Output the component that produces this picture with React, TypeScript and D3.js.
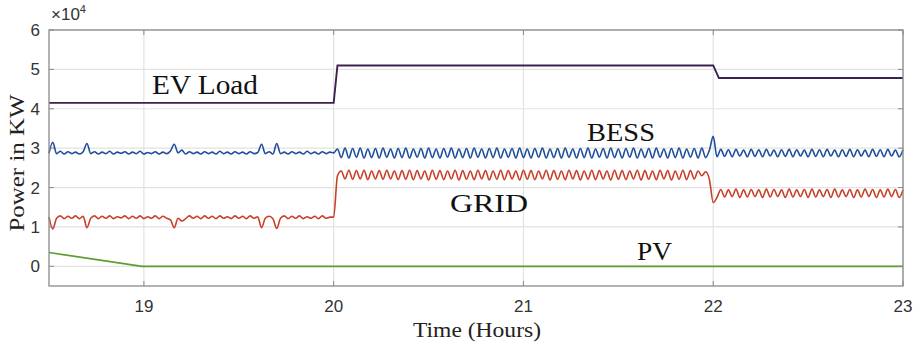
import React from "react";
import * as d3 from "d3";

const X_TICKS = [19, 20, 21, 22, 23];
const Y_TICKS = [0, 1, 2, 3, 4, 5, 6];

// sampled series: start time 18.5, step 0.02 h
const T0 = 18.5;
const STEP = 0.02;

const BESS = [
  2.87, 3.15, 2.86, 2.92, 2.85, 2.91, 2.86, 2.90, 2.85, 2.91,
  3.12, 2.86, 2.91, 2.85, 2.90, 2.86, 2.92, 2.85, 2.90, 2.87,
  2.91, 2.85, 2.90, 2.86, 2.92, 2.85, 2.89, 2.86, 2.91, 2.85,
  2.90, 2.86, 2.93, 3.10, 2.88, 2.95, 2.85, 2.91, 2.86, 2.90,
  2.85, 2.91, 2.86, 2.90, 2.85, 2.92, 2.86, 2.90, 2.85, 2.91,
  2.86, 2.90, 2.85, 2.91, 2.86, 2.89, 3.10, 2.86, 2.91, 2.85,
  3.12, 2.86, 2.90, 2.85, 2.91, 2.86, 2.90, 2.85, 2.92, 2.86,
  2.90, 2.85, 2.91, 2.86, 2.90, 2.88,
  2.98, 2.76, 3.00, 2.75, 2.99, 2.77, 3.00, 2.75, 2.98, 2.76,
  2.99, 2.75, 3.00, 2.77, 2.98, 2.75, 2.99, 2.76, 3.00, 2.75,
  2.98, 2.77, 2.99, 2.75, 3.00, 2.76, 2.98, 2.75, 2.99, 2.77,
  3.00, 2.75, 2.98, 2.76, 2.99, 2.75, 3.00, 2.77, 2.98, 2.75,
  2.99, 2.76, 3.00, 2.75, 2.98, 2.77, 2.99, 2.75, 3.00, 2.76,
  2.98, 2.75, 2.99, 2.77, 3.00, 2.75, 2.98, 2.76, 2.99, 2.75,
  3.00, 2.77, 2.98, 2.75, 2.99, 2.76, 3.00, 2.75, 2.98, 2.77,
  2.99, 2.75, 3.00, 2.76, 2.98, 2.75, 2.99, 2.77, 3.00, 2.75,
  2.98, 2.76, 2.99, 2.75, 3.00, 2.77, 2.98, 2.75, 2.99, 2.76,
  3.00, 2.75, 2.98, 2.77, 2.99, 2.75, 3.00, 2.76, 2.95, 3.30,
  2.78, 2.97, 2.79, 2.96, 2.78, 2.97, 2.80, 2.95, 2.78, 2.97,
  2.79, 2.96, 2.78, 2.97, 2.80, 2.95, 2.78, 2.96, 2.79, 2.97,
  2.78, 2.96, 2.80, 2.95, 2.78, 2.97, 2.79, 2.96, 2.78, 2.97,
  2.80, 2.95, 2.78, 2.96, 2.79, 2.97, 2.78, 2.96, 2.80, 2.95,
  2.78, 2.97, 2.79, 2.96, 2.78, 2.97, 2.80, 2.95, 2.78, 2.96,
];

const GRID = [
  1.25, 0.95, 1.22, 1.28, 1.21, 1.27, 1.22, 1.28, 1.21, 1.27,
  0.98, 1.22, 1.28, 1.21, 1.27, 1.22, 1.28, 1.21, 1.26, 1.23,
  1.28, 1.21, 1.27, 1.22, 1.28, 1.21, 1.26, 1.22, 1.28, 1.21,
  1.27, 1.22, 1.18, 0.98, 1.22, 1.15, 1.21, 1.28, 1.22, 1.27,
  1.21, 1.28, 1.22, 1.27, 1.21, 1.28, 1.22, 1.26, 1.21, 1.28,
  1.22, 1.27, 1.21, 1.28, 1.22, 1.26, 0.98, 1.22, 1.27, 1.21,
  0.96, 1.22, 1.28, 1.21, 1.27, 1.22, 1.28, 1.21, 1.26, 1.22,
  1.27, 1.21, 1.28, 1.22, 1.25, 1.25,
  2.30, 2.42, 2.22, 2.44, 2.21, 2.43, 2.22, 2.44, 2.20, 2.42,
  2.22, 2.43, 2.21, 2.44, 2.22, 2.42, 2.20, 2.43, 2.21, 2.44,
  2.20, 2.43, 2.22, 2.42, 2.19, 2.44, 2.21, 2.43, 2.20, 2.42,
  2.22, 2.44, 2.19, 2.43, 2.21, 2.42, 2.20, 2.44, 2.22, 2.43,
  2.19, 2.42, 2.21, 2.44, 2.20, 2.43, 2.22, 2.42, 2.19, 2.44,
  2.21, 2.43, 2.20, 2.42, 2.22, 2.44, 2.19, 2.43, 2.21, 2.42,
  2.20, 2.44, 2.22, 2.43, 2.19, 2.42, 2.21, 2.44, 2.20, 2.43,
  2.22, 2.42, 2.19, 2.44, 2.21, 2.43, 2.20, 2.42, 2.22, 2.44,
  2.19, 2.43, 2.21, 2.42, 2.20, 2.44, 2.22, 2.43, 2.19, 2.42,
  2.21, 2.44, 2.20, 2.43, 2.22, 2.42, 2.30, 2.40, 2.20, 1.62,
  1.75, 1.95, 1.76, 1.94, 1.77, 1.96, 1.75, 1.94, 1.76, 1.95,
  1.77, 1.94, 1.75, 1.96, 1.76, 1.95, 1.77, 1.94, 1.75, 1.96,
  1.76, 1.94, 1.77, 1.95, 1.75, 1.96, 1.76, 1.94, 1.77, 1.95,
  1.75, 1.96, 1.76, 1.94, 1.77, 1.95, 1.75, 1.94, 1.76, 1.96,
  1.77, 1.95, 1.75, 1.94, 1.76, 1.96, 1.77, 1.95, 1.75, 1.94,
];

const EV_T = [18.5, 20.0, 20.02, 22.0, 22.03, 23];
const EV_V = [4.15, 4.15, 5.1, 5.1, 4.78, 4.78];

const PV_T = [18.5, 18.99, 23];
const PV_V = [0.35, 0.0, 0.0];

const W = 916;
const H = 349;
const M = { left: 49, right: 13, top: 30, bottom: 63 };

export default function App() {
  const x = d3.scaleLinear().domain([18.5, 23]).range([M.left, W - M.right]);
  const y = d3.scaleLinear().domain([-0.5, 6]).range([H - M.bottom, M.top]);
  const line = d3
    .line<[number, number]>()
    .x((d) => x(d[0]))
    .y((d) => y(d[1]));
  const smooth = d3
    .line<[number, number]>()
    .x((d) => x(d[0]))
    .y((d) => y(d[1]))
    .curve(d3.curveMonotoneX);

  const sampled = (arr: number[]) =>
    arr.map((v, i) => [T0 + STEP * i, v] as [number, number]);
  const paired = (ts: number[], vs: number[]) =>
    ts.map((t, i) => [t, vs[i]] as [number, number]);

  const x0 = M.left;
  const x1 = W - M.right;
  const y0 = H - M.bottom;
  const y1 = M.top;
  const axisColor = "#8a8a8a";
  const sans = "Liberation Sans, Arial, sans-serif";
  const serif = "Liberation Serif, Times New Roman, serif";

  return (
    <svg
      width={W}
      height={H}
      style={{ position: "absolute", left: 0, top: 0, background: "#fff" }}
    >
      {/* grid */}
      {X_TICKS.map((t) => (
        <line key={"gx" + t} x1={x(t)} x2={x(t)} y1={y1} y2={y0} stroke="#e2e2e2" strokeWidth={1.2} />
      ))}
      {Y_TICKS.map((t) => (
        <line key={"gy" + t} x1={x0} x2={x1} y1={y(t)} y2={y(t)} stroke="#e2e2e2" strokeWidth={1.2} />
      ))}

      {/* series */}
      <path d={line(paired(PV_T, PV_V)) || ""} fill="none" stroke="#5a9e2e" strokeWidth={1.7} />
      <path d={smooth(sampled(GRID)) || ""} fill="none" stroke="#c8402a" strokeWidth={1.6} />
      <path d={smooth(sampled(BESS)) || ""} fill="none" stroke="#1f4e9c" strokeWidth={1.6} />
      <path d={line(paired(EV_T, EV_V)) || ""} fill="none" stroke="#3d2150" strokeWidth={1.9} />

      {/* box */}
      <rect x={x0} y={y1} width={x1 - x0} height={y0 - y1} fill="none" stroke={axisColor} strokeWidth={1.3} />
      {X_TICKS.map((t) => (
        <g key={"tx" + t}>
          <line x1={x(t)} x2={x(t)} y1={y0} y2={y0 - 5} stroke={axisColor} />
          <line x1={x(t)} x2={x(t)} y1={y1} y2={y1 + 5} stroke={axisColor} />
          <text x={x(t)} y={y0 + 26} textAnchor="middle" fontFamily={sans} fontSize={17} fill="#333">
            {t}
          </text>
        </g>
      ))}
      {Y_TICKS.map((t) => (
        <g key={"ty" + t}>
          <line x1={x0} x2={x0 + 5} y1={y(t)} y2={y(t)} stroke={axisColor} />
          <line x1={x1} x2={x1 - 5} y1={y(t)} y2={y(t)} stroke={axisColor} />
          <text x={x0 - 9} y={y(t) + 6} textAnchor="end" fontFamily={sans} fontSize={17} fill="#333">
            {t}
          </text>
        </g>
      ))}
      <text x={x0 + 2} y={y1 - 10} fontFamily={sans} fontSize={17} fill="#333">
        ×10
        <tspan fontSize={11} dy={-7}>4</tspan>
      </text>

      {/* axis titles */}
      <text x={477} y={337} textAnchor="middle" fontFamily={serif} fontSize={21} textLength={128} lengthAdjust="spacingAndGlyphs" fill="#222">
        Time (Hours)
      </text>
      <text
        transform={`translate(24, ${163}) rotate(-90)`}
        textAnchor="middle"
        fontFamily={serif}
        fontSize={21}
        textLength={137}
        lengthAdjust="spacingAndGlyphs"
        fill="#222"
      >
        Power in KW
      </text>

      {/* series labels */}
      <text x={152} y={94} fontFamily={serif} fontSize={28} textLength={106} lengthAdjust="spacingAndGlyphs" fill="#111">EV Load</text>
      <text x={587} y={141} fontFamily={serif} fontSize={26} textLength={68} lengthAdjust="spacingAndGlyphs" fill="#111">BESS</text>
      <text x={450} y={212} fontFamily={serif} fontSize={26} textLength={78} lengthAdjust="spacingAndGlyphs" fill="#111">GRID</text>
      <text x={637} y={260} fontFamily={serif} fontSize={26} textLength={35} lengthAdjust="spacingAndGlyphs" fill="#111">PV</text>
    </svg>
  );
}
